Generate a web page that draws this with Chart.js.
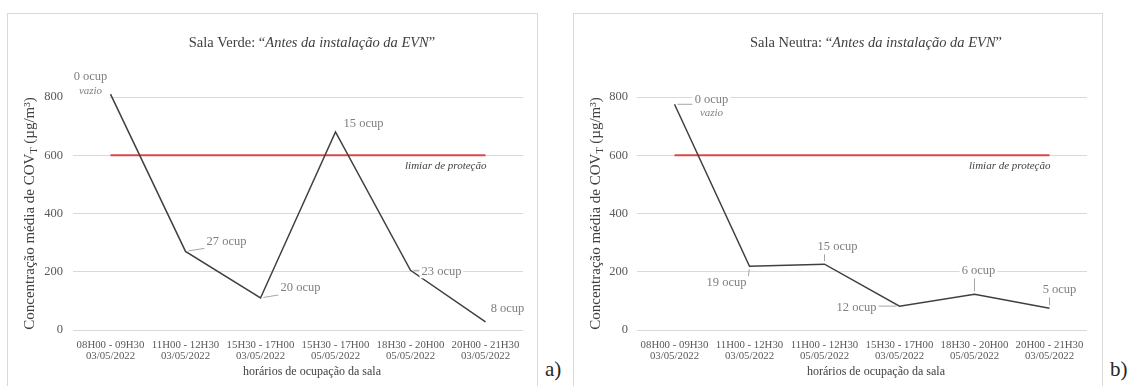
<!DOCTYPE html>
<html lang="pt">
<head>
<meta charset="utf-8">
<title>COV - antes da instalação da EVN</title>
<script src="https://cdn.jsdelivr.net/npm/chart.js@4.4.1/dist/chart.umd.min.js"></script>
<style>
  body { margin: 0; width: 1131px; height: 386px; overflow: hidden; position: relative; background: #fff; font-family: "Liberation Serif", serif; }
  .panel { position: absolute; top: 13px; height: 390px; border: 1px solid #d9d9d9; box-sizing: border-box; }
  #panelVerde { left: 7px; width: 531px; }
  #panelNeutra { left: 573px; width: 530px; }
  .panel canvas { display: block; }
  .tag { position: absolute; top: 359px; font-size: 21px; line-height: 21px; color: #262626; }
</style>
</head>
<body>
<div class="panel" id="panelVerde"><canvas id="chartVerde" width="529" height="372"></canvas></div>
<div class="panel" id="panelNeutra"><canvas id="chartNeutra" width="528" height="372"></canvas></div>
<div class="tag" style="left:545px">a)</div>
<div class="tag" style="left:1110px">b)</div>

<script>
// Sala Verde
const verdeLabels = [
  ['08H00 - 09H30', '03/05/2022'],
  ['11H00 - 12H30', '03/05/2022'],
  ['15H30 - 17H00', '03/05/2022'],
  ['15H30 - 17H00', '05/05/2022'],
  ['18H30 - 20H00', '05/05/2022'],
  ['20H00 - 21H30', '03/05/2022'],
];
const verdeCOV = [810, 270, 110, 680, 205, 28];
const verdeOcup = ['0 ocup', '27 ocup', '20 ocup', '15 ocup', '23 ocup', '8 ocup'];

// Sala Neutra
const neutraLabels = [
  ['08H00 - 09H30', '03/05/2022'],
  ['11H00 - 12H30', '03/05/2022'],
  ['11H00 - 12H30', '05/05/2022'],
  ['15H30 - 17H00', '03/05/2022'],
  ['18H30 - 20H00', '05/05/2022'],
  ['20H00 - 21H30', '03/05/2022'],
];
const neutraCOV = [775, 219, 226, 82, 123, 75];
const neutraOcup = ['0 ocup', '19 ocup', '15 ocup', '12 ocup', '6 ocup', '5 ocup'];

const limiarProtecao = 600;
const yTicks = [0, 200, 400, 600, 800];
const notaVazio = 'vazio';

const FONT = '"Liberation Serif", serif';
Chart.defaults.font.family = FONT;

function drawRuns(ctx, runs, x, y) {
  let total = 0;
  runs.forEach((r) => { ctx.font = r.font; r.w = ctx.measureText(r.text).width; total += r.w; });
  let cx = x - total / 2;
  ctx.textAlign = 'left';
  runs.forEach((r) => {
    ctx.font = r.font;
    ctx.fillText(r.text, cx, y + (r.dy || 0));
    cx += r.w;
  });
}

const clamp = (v, a, b) => Math.min(Math.max(v, a), b);

// titles, axis titles, threshold caption and occupancy labels
const annotations = {
  id: 'annotations',
  afterDatasetsDraw(chart, args, opts) {
    const { ctx, chartArea: area } = chart;
    const meta = chart.getDatasetMeta(0);
    const limiarMeta = chart.getDatasetMeta(1);
    const midX = (area.left + area.right) / 2 + 14;

    ctx.save();
    ctx.textBaseline = 'middle';

    // chart title
    ctx.fillStyle = '#404040';
    drawRuns(ctx, [
      { text: opts.sala + ': “', font: '14.5px ' + FONT },
      { text: 'Antes da instalação da EVN', font: 'italic 14.5px ' + FONT },
      { text: '”', font: '14.5px ' + FONT },
    ], midX, 29);

    // x axis title
    ctx.fillStyle = '#404040';
    drawRuns(ctx, [{ text: 'horários de ocupação da sala', font: '12px ' + FONT }], midX, 358);

    // y axis title
    ctx.save();
    ctx.translate(22, (area.top + area.bottom) / 2);
    ctx.rotate(-Math.PI / 2);
    drawRuns(ctx, [
      { text: 'Concentração média de COV', font: '15px ' + FONT },
      { text: 'T', font: '10px ' + FONT, dy: 4 },
      { text: ' (µg/m³)', font: '15px ' + FONT },
    ], 0, 0);
    ctx.restore();

    // threshold caption
    const last = limiarMeta.data[limiarMeta.data.length - 1];
    ctx.font = 'italic 11px ' + FONT;
    ctx.fillStyle = '#404040';
    ctx.textAlign = 'right';
    ctx.fillText('limiar de proteção', last.x + 1, last.y + 11);

    // occupancy labels with leader lines
    opts.texts.forEach((txt, i) => {
      const p = meta.data[i];
      const [dx, dy] = opts.offsets[i];
      const lx = p.x + dx;
      const ly = p.y + dy;
      ctx.font = '12.5px ' + FONT;
      const w = ctx.measureText(txt).width;
      const box = { l: lx - w / 2 - 2, r: lx + w / 2 + 2, t: ly - 7, b: ly + 7 };
      if (i === 0) box.b += 14;

      const nx = clamp(p.x, box.l, box.r);
      const ny = clamp(p.y, box.t, box.b);
      const d = Math.hypot(nx - p.x, ny - p.y);
      if (d > 8) {
        ctx.strokeStyle = '#a6a6a6';
        ctx.lineWidth = 1;
        ctx.beginPath();
        ctx.moveTo(p.x + (nx - p.x) * 3 / d, p.y + (ny - p.y) * 3 / d);
        ctx.lineTo(nx, ny);
        ctx.stroke();
      }

      ctx.fillStyle = '#fff';
      ctx.fillRect(box.l, box.t, box.r - box.l, box.b - box.t);
      ctx.fillStyle = '#7f7f7f';
      ctx.textAlign = 'center';
      ctx.font = '12.5px ' + FONT;
      ctx.fillText(txt, lx, ly);
      if (i === 0) {
        ctx.font = 'italic 11px ' + FONT;
        ctx.fillText(notaVazio, lx, ly + 14);
      }
    });
    ctx.restore();
  },
};

function buildChart(id, sala, labels, values, ocup, offsets, axisWidth, tickPad, padRight) {
  return new Chart(document.getElementById(id), {
    type: 'line',
    data: {
      labels: labels,
      datasets: [
        {
          data: values,
          borderColor: '#404040',
          borderWidth: 1.5,
          pointRadius: 0,
          tension: 0,
          clip: false,
        },
        {
          data: labels.map(() => limiarProtecao),
          borderColor: '#dc4848',
          borderWidth: 2,
          pointRadius: 0,
        },
      ],
    },
    options: {
      responsive: false,
      animation: false,
      devicePixelRatio: 1,
      layout: { padding: { top: 83, right: padRight, bottom: 0, left: 0 } },
      plugins: {
        legend: { display: false },
        tooltip: { enabled: false },
        annotations: { sala: sala, texts: ocup, offsets: offsets },
      },
      scales: {
        x: {
          offset: true,
          border: { display: false },
          grid: { display: false, drawTicks: false },
          ticks: {
            autoSkip: false,
            maxRotation: 0,
            padding: 9,
            color: '#595959',
            font: { size: 10.8, lineHeight: 1.05 },
          },
          afterFit: (scale) => { scale.height = 56; },
        },
        y: {
          min: 0,
          max: 800,
          border: { display: false },
          grid: { color: '#d9d9d9', drawTicks: false },
          ticks: { padding: tickPad, color: '#595959', font: { size: 12.5 } },
          afterBuildTicks: (scale) => { scale.ticks = yTicks.map((v) => ({ value: v })); },
          afterFit: (scale) => { scale.width = axisWidth; },
        },
      },
    },
    plugins: [annotations],
  });
}

buildChart('chartVerde', 'Sala Verde', verdeLabels, verdeCOV, verdeOcup,
  [[-20, -17], [41, -10], [40, -10], [28, -8], [31, 1], [22, -13]], 65, 10, 14);

buildChart('chartNeutra', 'Sala Neutra', neutraLabels, neutraCOV, neutraOcup,
  [[37, -5], [-23, 17], [13, -17], [-43, 2], [4, -23], [10, -18]], 63, 9, 15);
</script>
</body>
</html>
